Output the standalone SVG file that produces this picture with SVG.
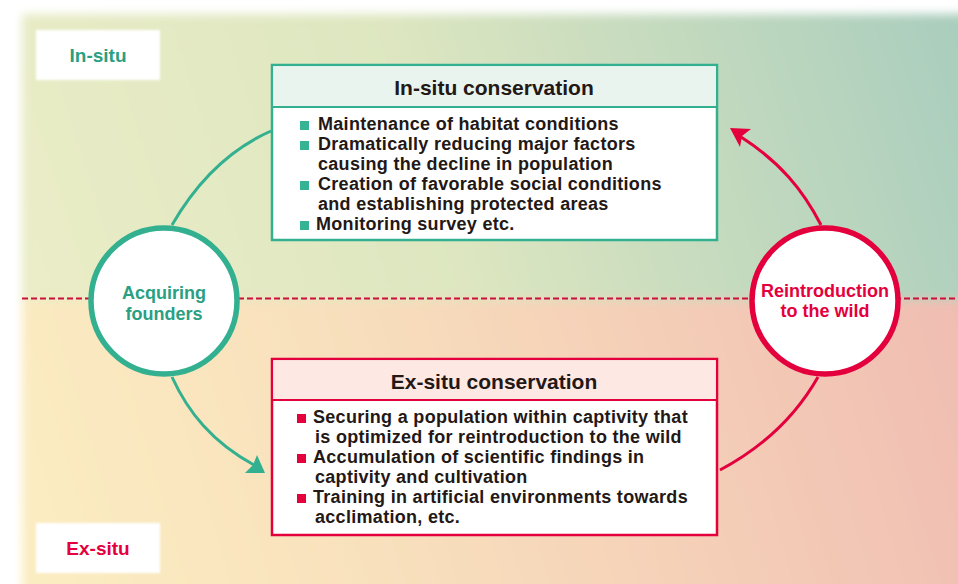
<svg xmlns="http://www.w3.org/2000/svg" width="958" height="584" viewBox="0 0 958 584">
<defs>
<linearGradient id="gTop" x1="0" y1="300" x2="958" y2="0" gradientUnits="userSpaceOnUse">
<stop offset="0" stop-color="#ebedc7"/>
<stop offset="0.45" stop-color="#dde6c0"/>
<stop offset="1" stop-color="#a9cdbd"/>
</linearGradient>
<linearGradient id="gBot" x1="0" y1="584" x2="958" y2="300" gradientUnits="userSpaceOnUse">
<stop offset="0" stop-color="#fbeec2"/>
<stop offset="0.4" stop-color="#f8dfbc"/>
<stop offset="1" stop-color="#f0bdb2"/>
</linearGradient>
<filter id="soft" x="-0.05" y="-0.05" width="1.1" height="1.1">
<feGaussianBlur stdDeviation="5"/>
</filter>
<filter id="soft2" x="-0.1" y="-0.2" width="1.2" height="1.4">
<feGaussianBlur stdDeviation="1.2"/>
</filter>
<style>
.b{font-family:"Liberation Sans",Arial,sans-serif;font-weight:bold;}
.item{font-size:18px;fill:#231815;letter-spacing:0.3px;}
.title{font-size:21px;fill:#231815;text-anchor:middle;}
.tl{fill:#2a9f82;}
.rd{fill:#e4003d;}
.lab{font-size:19px;text-anchor:middle;}
.circ{font-size:18px;text-anchor:middle;}
.bt{fill:#36b294;}
.br{fill:#e4003d;}
</style>
</defs>
<rect width="958" height="584" fill="#ffffff"/>
<g id="background" filter="url(#soft)">
<rect x="22" y="14" width="960" height="288" fill="url(#gTop)"/>
<rect x="22" y="300" width="960" height="300" fill="url(#gBot)"/>
</g>
<line x1="22" y1="298.5" x2="958" y2="298.5" stroke="#c8103c" stroke-width="2" stroke-dasharray="6,3"/>

<g id="label-insitu">
<rect x="36" y="30" width="124" height="50" fill="#ffffff" filter="url(#soft2)"/>
<text class="b lab tl" x="98" y="62">In-situ</text>
</g>
<g id="label-exsitu">
<rect x="36" y="523" width="124" height="50" fill="#ffffff" filter="url(#soft2)"/>
<text class="b lab rd" x="98" y="555">Ex-situ</text>
</g>

<g id="connectors" fill="none" stroke-width="3">
<path d="M172,225 C195,185 228,150 271,131" stroke="#33b08f"/>
<path d="M172,377 C188,412 212,442 254,465" stroke="#33b08f"/>
<polygon points="265,473 245,473 253,465 257,455" fill="#33b08f" stroke="none"/>
<path d="M821,225 C803,190 780,162 741,137" stroke="#e4003d"/>
<polygon points="730,128 751,129 742,136 740,147" fill="#e4003d" stroke="none"/>
<path d="M818,377 C797,414 767,445 720,470" stroke="#e4003d"/>
</g>

<g id="node-insitu">
<rect x="272" y="65" width="445" height="175" fill="#ffffff" stroke="#33b08f" stroke-width="2.5"/>
<rect x="273.25" y="66.25" width="442.5" height="40.75" fill="#e9f4ef"/>
<line x1="272" y1="107" x2="717" y2="107" stroke="#33b08f" stroke-width="2"/>
<text class="b title" x="494" y="95">In-situ conservation</text>
<rect class="bt" x="300" y="121" width="9" height="9"/>
<rect class="bt" x="300" y="141" width="9" height="9"/>
<rect class="bt" x="300" y="181" width="9" height="9"/>
<rect class="bt" x="300" y="221" width="9" height="9"/>
<text class="b item" x="318" y="130">Maintenance of habitat conditions</text>
<text class="b item" x="318" y="150">Dramatically reducing major factors</text>
<text class="b item" x="318" y="170">causing the decline in population</text>
<text class="b item" x="318" y="190">Creation of favorable social conditions</text>
<text class="b item" x="318" y="210">and establishing protected areas</text>
<text class="b item" x="316" y="230">Monitoring survey etc.</text>
</g>

<g id="node-exsitu">
<rect x="272" y="359" width="445" height="176" fill="#ffffff" stroke="#e4003d" stroke-width="2.5"/>
<rect x="273.25" y="360.25" width="442.5" height="39.75" fill="#fde8e3"/>
<line x1="272" y1="400" x2="717" y2="400" stroke="#e4003d" stroke-width="2"/>
<text class="b title" x="494" y="389">Ex-situ conservation</text>
<rect class="br" x="297" y="414" width="9" height="9"/>
<rect class="br" x="297" y="454" width="9" height="9"/>
<rect class="br" x="297" y="494" width="9" height="9"/>
<text class="b item" x="313" y="423">Securing a population within captivity that</text>
<text class="b item" x="315" y="443">is optimized for reintroduction to the wild</text>
<text class="b item" x="313" y="463">Accumulation of scientific findings in</text>
<text class="b item" x="315" y="483">captivity and cultivation</text>
<text class="b item" x="313" y="503">Training in artificial environments towards</text>
<text class="b item" x="315" y="523">acclimation, etc.</text>
</g>

<g id="node-acquiring">
<circle cx="164" cy="301" r="73" fill="#ffffff" stroke="#33b08f" stroke-width="5.5"/>
<text class="b circ tl" x="164" y="299">Acquiring</text>
<text class="b circ tl" x="164" y="320">founders</text>
</g>
<g id="node-reintroduction">
<circle cx="825" cy="301" r="73" fill="#ffffff" stroke="#e4003d" stroke-width="5.5"/>
<text class="b circ rd" x="825" y="297">Reintroduction</text>
<text class="b circ rd" x="825" y="317">to the wild</text>
</g>
</svg>
